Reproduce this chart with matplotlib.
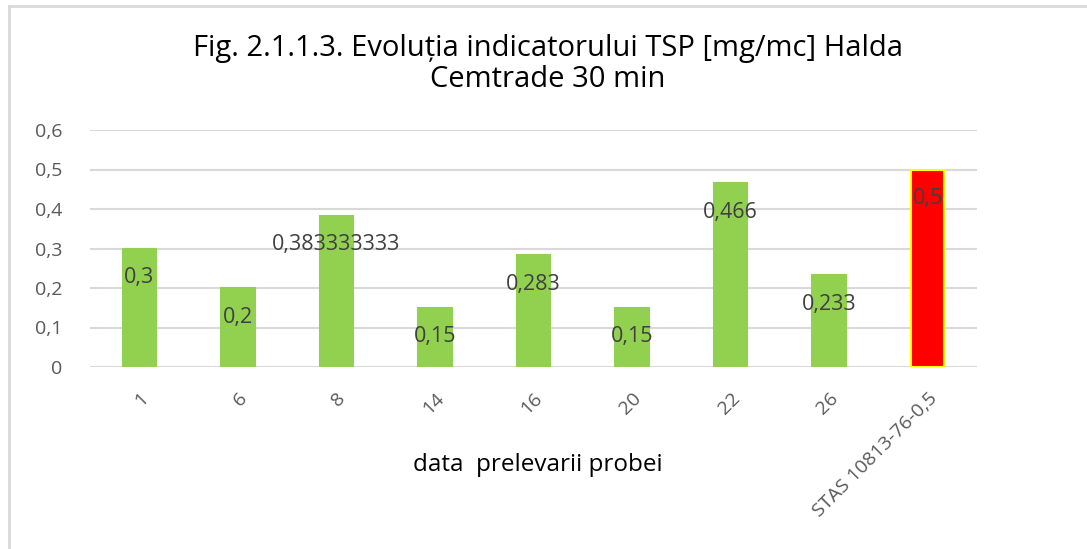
import matplotlib
matplotlib.use("Agg")
import matplotlib.pyplot as plt
from matplotlib.lines import Line2D

# data
categories = ["1", "6", "8", "14", "16", "20", "22", "26", "STAS 10813-76-0,5"]
values = [0.3, 0.2, 0.383333333, 0.15, 0.283, 0.15, 0.466, 0.233, 0.5]
labels = ["0,3", "0,2", "0,383333333", "0,15", "0,283", "0,15", "0,466", "0,233", "0,5"]
yticks = [0, 0.1, 0.2, 0.3, 0.4, 0.5, 0.6]
ytick_labels = ["0", "0,1", "0,2", "0,3", "0,4", "0,5", "0,6"]

plt.rcParams['font.family'] = ['Open Sans', 'DejaVu Sans']

W, H = 1087, 549
fig = plt.figure(figsize=(W / 100, H / 100), dpi=100)
ax = fig.add_axes([90 / W, 1 - 367 / H, (977 - 90) / W, (367 - 130) / H])

green = "#92d050"
colors = [green] * (len(values) - 1) + ["#ff0000"]
edges = [green] * (len(values) - 1) + ["#ffff00"]
x = list(range(len(categories)))
ax.bar(x, values, width=0.34, color=colors, edgecolor=edges, linewidth=1.5, zorder=3)

# data labels, inside end
for xi, v, lab in zip(x, values, labels):
    ax.annotate(lab, (xi, v), xytext=(0, -21), textcoords="offset points",
                ha="center", va="center", fontsize=15.5, color="#404040", zorder=4)

ax.set_xlim(-0.5, len(categories) - 0.5)
ax.set_ylim(0, 0.6)
ax.set_yticks(yticks)
ax.set_yticklabels(ytick_labels)
ax.set_xticks(x)
ax.set_xticklabels(categories, rotation=45, ha="right", rotation_mode="anchor")
ax.tick_params(axis="both", length=0, labelsize=14, labelcolor="#595959")
ax.tick_params(axis="x", pad=16)
ax.tick_params(axis="y", pad=20)
for lab in ax.get_yticklabels():
    lab.set_horizontalalignment("right")

ax.grid(axis="y", color="#d9d9d9", linewidth=1.5, zorder=0)
ax.set_axisbelow(True)
for s in ax.spines.values():
    s.set_visible(False)

fig.text(548 / W, 1 - 64 / H, "Fig. 2.1.1.3. Evoluția indicatorului TSP [mg/mc] Halda\nCemtrade 30 min",
         ha="center", va="center", fontsize=21, color="#000000", linespacing=1.1)
fig.text(538 / W, 1 - 465 / H, "data  prelevarii probei", ha="center", va="center",
         fontsize=17.5, color="#000000")

# chart area frame (left and top edges visible)
fig.add_artist(Line2D([8.5 / W, 8.5 / W], [0, 1 - 5.5 / H], color="#d9d9d9", linewidth=2))
fig.add_artist(Line2D([8.5 / W, 1086 / W], [1 - 5.5 / H, 1 - 5.5 / H], color="#d9d9d9", linewidth=2))

fig.savefig("out.png", dpi=100)
